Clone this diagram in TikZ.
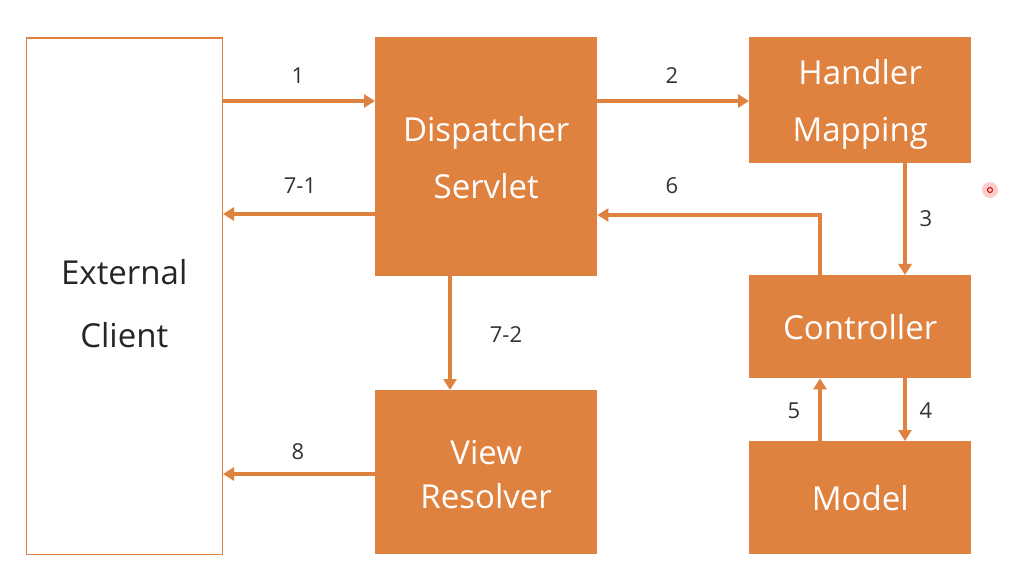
\documentclass[tikz,border=0pt]{standalone}
\usepackage{fontspec}
\setmainfont{Open Sans}
\usetikzlibrary{arrows.meta}
\definecolor{org}{HTML}{E0823F}
\definecolor{txt}{HTML}{333333}
\begin{document}
\begin{tikzpicture}[x=1pt,y=-1pt,
  box/.style={fill=org,draw=none,anchor=north west,inner sep=0pt},
  btext/.style={text=white,font=\fontsize{33}{57}\selectfont,align=center,inner sep=0pt},
  arr/.style={draw=org,line width=3.5pt,-{Triangle[length=11pt,width=13pt]}},
  lab/.style={text=txt,font=\fontsize{22}{24}\selectfont,inner sep=0pt}]
\useasboundingbox (0,0) rectangle (1023,588);
\fill[white] (0,0) rectangle (1023,588);
\node[draw=org,line width=1.5pt,minimum width=196pt,minimum height=516pt,anchor=north west,inner sep=0pt] (ext) at (25.5,37.5) {};
\node[btext,text=black!85,font=\fontsize{33}{63}\selectfont] (extt) at ([yshift=-7pt]ext.center) {External\\Client};
\node[box,minimum width=222pt,minimum height=239pt] (ds) at (375,37) {};
\node[btext] (dst) at ([yshift=-1pt]ds.center) {Dispatcher\\Servlet};
\node[box,minimum width=222pt,minimum height=126pt] (hm) at (749,37) {};
\node[btext] (hmt) at ([yshift=-4pt]hm.center) {Handler\\Mapping};
\node[box,minimum width=222pt,minimum height=103pt] (ct) at (749,275) {};
\node[btext] (ctt) at (ct.center) {Controller};
\node[box,minimum width=222pt,minimum height=113pt] (md) at (749,441) {};
\node[btext] (mdt) at (md.center) {Model};
\node[box,minimum width=222pt,minimum height=164pt] (vr) at (375,390) {};
\node[btext,font=\fontsize{33}{44}\selectfont] (vrt) at ([yshift=-2pt]vr.center) {View\\Resolver};
% arrows
\coordinate (a1) at (222,101);
\draw[arr] (a1) -- (a1 -| ds.west);
\node[lab] at (298,76) {1};
\coordinate (a71) at (375,214);
\draw[arr] (a71) -- (a71 -| ext.east);
\node[lab] at (300,186) {7-1};
\coordinate (a2) at (597,101);
\draw[arr] (a2) -- (a2 -| hm.west);
\node[lab] at (672,76) {2};
\coordinate (c6) at (820,215);
\draw[arr] (ct.north -| c6) -- (c6) -- (c6 -| ds.east);
\node[lab] at (672,186) {6};
\coordinate (a3) at (905,163);
\draw[arr] (a3) -- (a3 |- ct.north);
\node[lab] at (926,219) {3};
\coordinate (a72) at (450,276);
\draw[arr] (a72) -- (a72 |- vr.north);
\node[lab] at (506,335) {7-2};
\coordinate (a8) at (375,474);
\draw[arr] (a8) -- (a8 -| ext.east);
\node[lab] at (298,452) {8};
\coordinate (a5) at (820,441);
\draw[arr] (a5) -- (a5 |- ct.south);
\node[lab] at (794,411) {5};
\coordinate (a4) at (905,378);
\draw[arr] (a4) -- (a4 |- md.north);
\node[lab] at (926,411) {4};
% pointer dot
\fill[red!20] (990,190) circle (8pt);
\draw[red!80!black,line width=1pt] (990,190) circle (2.5pt);
\end{tikzpicture}
\end{document}
